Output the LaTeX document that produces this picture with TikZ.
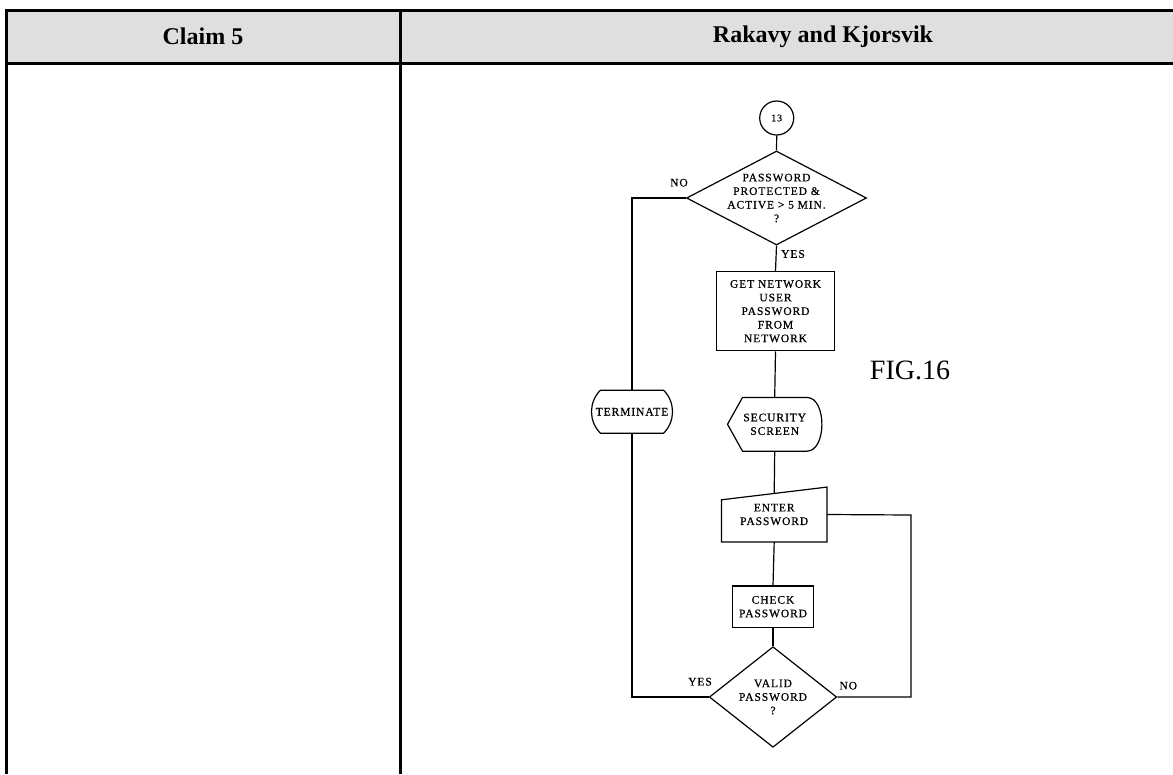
\documentclass[tikz,border=0pt]{standalone}
\usepackage{fontspec}
\setmainfont{Liberation Serif}
\newfontfamily\chartfont[LetterSpace=8, FakeBold=0.6]{Liberation Serif}
\usetikzlibrary{shapes.geometric, shapes.misc, positioning, calc}
\definecolor{headfill}{HTML}{DFDFDF}

\begin{document}
\begin{tikzpicture}[
    x=1pt, y=-1pt,
    rule/.style      ={line width=3pt},
    chart/.style     ={font=\chartfont\fontsize{11.5}{13.6}\selectfont, align=center},
    procbox/.style   ={chart, draw, line width=1.2pt, inner sep=0pt},
    decision/.style  ={procbox, diamond},
    terminal/.style  ={procbox, rounded rectangle, rounded rectangle arc length=90},
    ghost/.style     ={chart, inner sep=0pt},
    outline/.style   ={line width=1.2pt},
    flow/.style      ={line width=1.2pt},
    answer/.style    ={chart, inner sep=1pt},
    head/.style      ={font=\bfseries\fontsize{24}{28}\selectfont}
]
\useasboundingbox (0,0) rectangle (1173,774);

% Table: header row and column rules
\fill[headfill] (6,10) rectangle (1173,63);
\draw[rule] (1173,10) -- (6,10) -- (6,774);
\draw[rule] (6,63) -- (1173,63);
\draw[rule] (400,10) -- (400,774);

\node[head] (claim) at (203,36.5) {Claim 5};
\node[head] (prior) at (823,36.5) {Rakavy and Kjorsvik};

% Flow chart, top to bottom
\node[procbox, circle, minimum size=34pt, font=\chartfont\fontsize{10}{11}\selectfont] (start) at (776.7,118) {13};
\node[decision, minimum width=180pt, minimum height=94pt,
      label={[chart]center:PASSWORD\\PROTECTED \&\\ACTIVE > 5 MIN.\\?}] (pwchk) at (776.5,198) {};
\node[procbox, minimum width=117.6pt, minimum height=79pt] (netpw) at (775.5,311.2)
    {GET NETWORK\\USER\\PASSWORD\\FROM\\NETWORK};
\node[terminal, minimum width=81pt, minimum height=43pt] (term) at (632,411.7) {TERMINATE};

% Display symbol
\node[ghost, minimum width=94pt, minimum height=53.3pt] (screen) at (774.7,424.3) {SECURITY\\SCREEN};
\draw[outline] (screen.west) -- ([xshift=15pt]screen.north west) -- ([xshift=-15pt]screen.north east)
    .. controls ([xshift=5pt]screen.north east) and ([xshift=5pt]screen.south east) .. ([xshift=-15pt]screen.south east)
    -- ([xshift=15pt]screen.south west) -- cycle;

% Manual input symbol
\node[ghost, minimum width=105pt, minimum height=54.4pt] (enter) at (774.2,514.5) {ENTER\\PASSWORD};
\draw[outline] (enter.south west) -- ([yshift=-12.7pt]enter.north west) -- (enter.north east)
    -- (enter.south east) -- cycle;
\coordinate (entertop) at ($([yshift=-12.7pt]enter.north west)!0.5!(enter.north east)$);

\node[procbox, minimum width=80.6pt, minimum height=41.3pt] (check) at (773,606.7) {CHECK\\PASSWORD};
\node[decision, minimum width=127.4pt, minimum height=100.6pt,
      label={[chart]center:VALID\\PASSWORD\\?}] (valid) at (773,697) {};

\node[font=\fontsize{28}{30}\selectfont] (fig) at (910,370.7) {FIG.16};

% Branch labels
\node[answer] (no1)  at (679,182.7) {NO};
\node[answer] (yes1) at (793,254)   {YES};
\node[answer] (yes2) at (700,681.7) {YES};
\node[answer] (no2)  at (848.3,685.7) {NO};

% --- Lines ---
\draw[flow] (start.south) -- (pwchk.north);
\draw[flow] (pwchk.south) -- (netpw.north);
\draw[flow] (netpw.south) -- (screen.north);
\draw[flow] (screen.south) -- (entertop);
\draw[flow] (enter.south) -- (check.north);
\draw[flow] (check.south) -- (valid.north);

% NO branch down the left, past terminate
\draw[flow] (pwchk.west) -| (term.north);
\draw[flow] (term.south) |- (valid.west);

% NO branch of the check, back to the input
\coordinate (rloop) at (911,515);
\draw[flow] (enter.east) -- (rloop) |- (valid.east);

\end{tikzpicture}
\end{document}
